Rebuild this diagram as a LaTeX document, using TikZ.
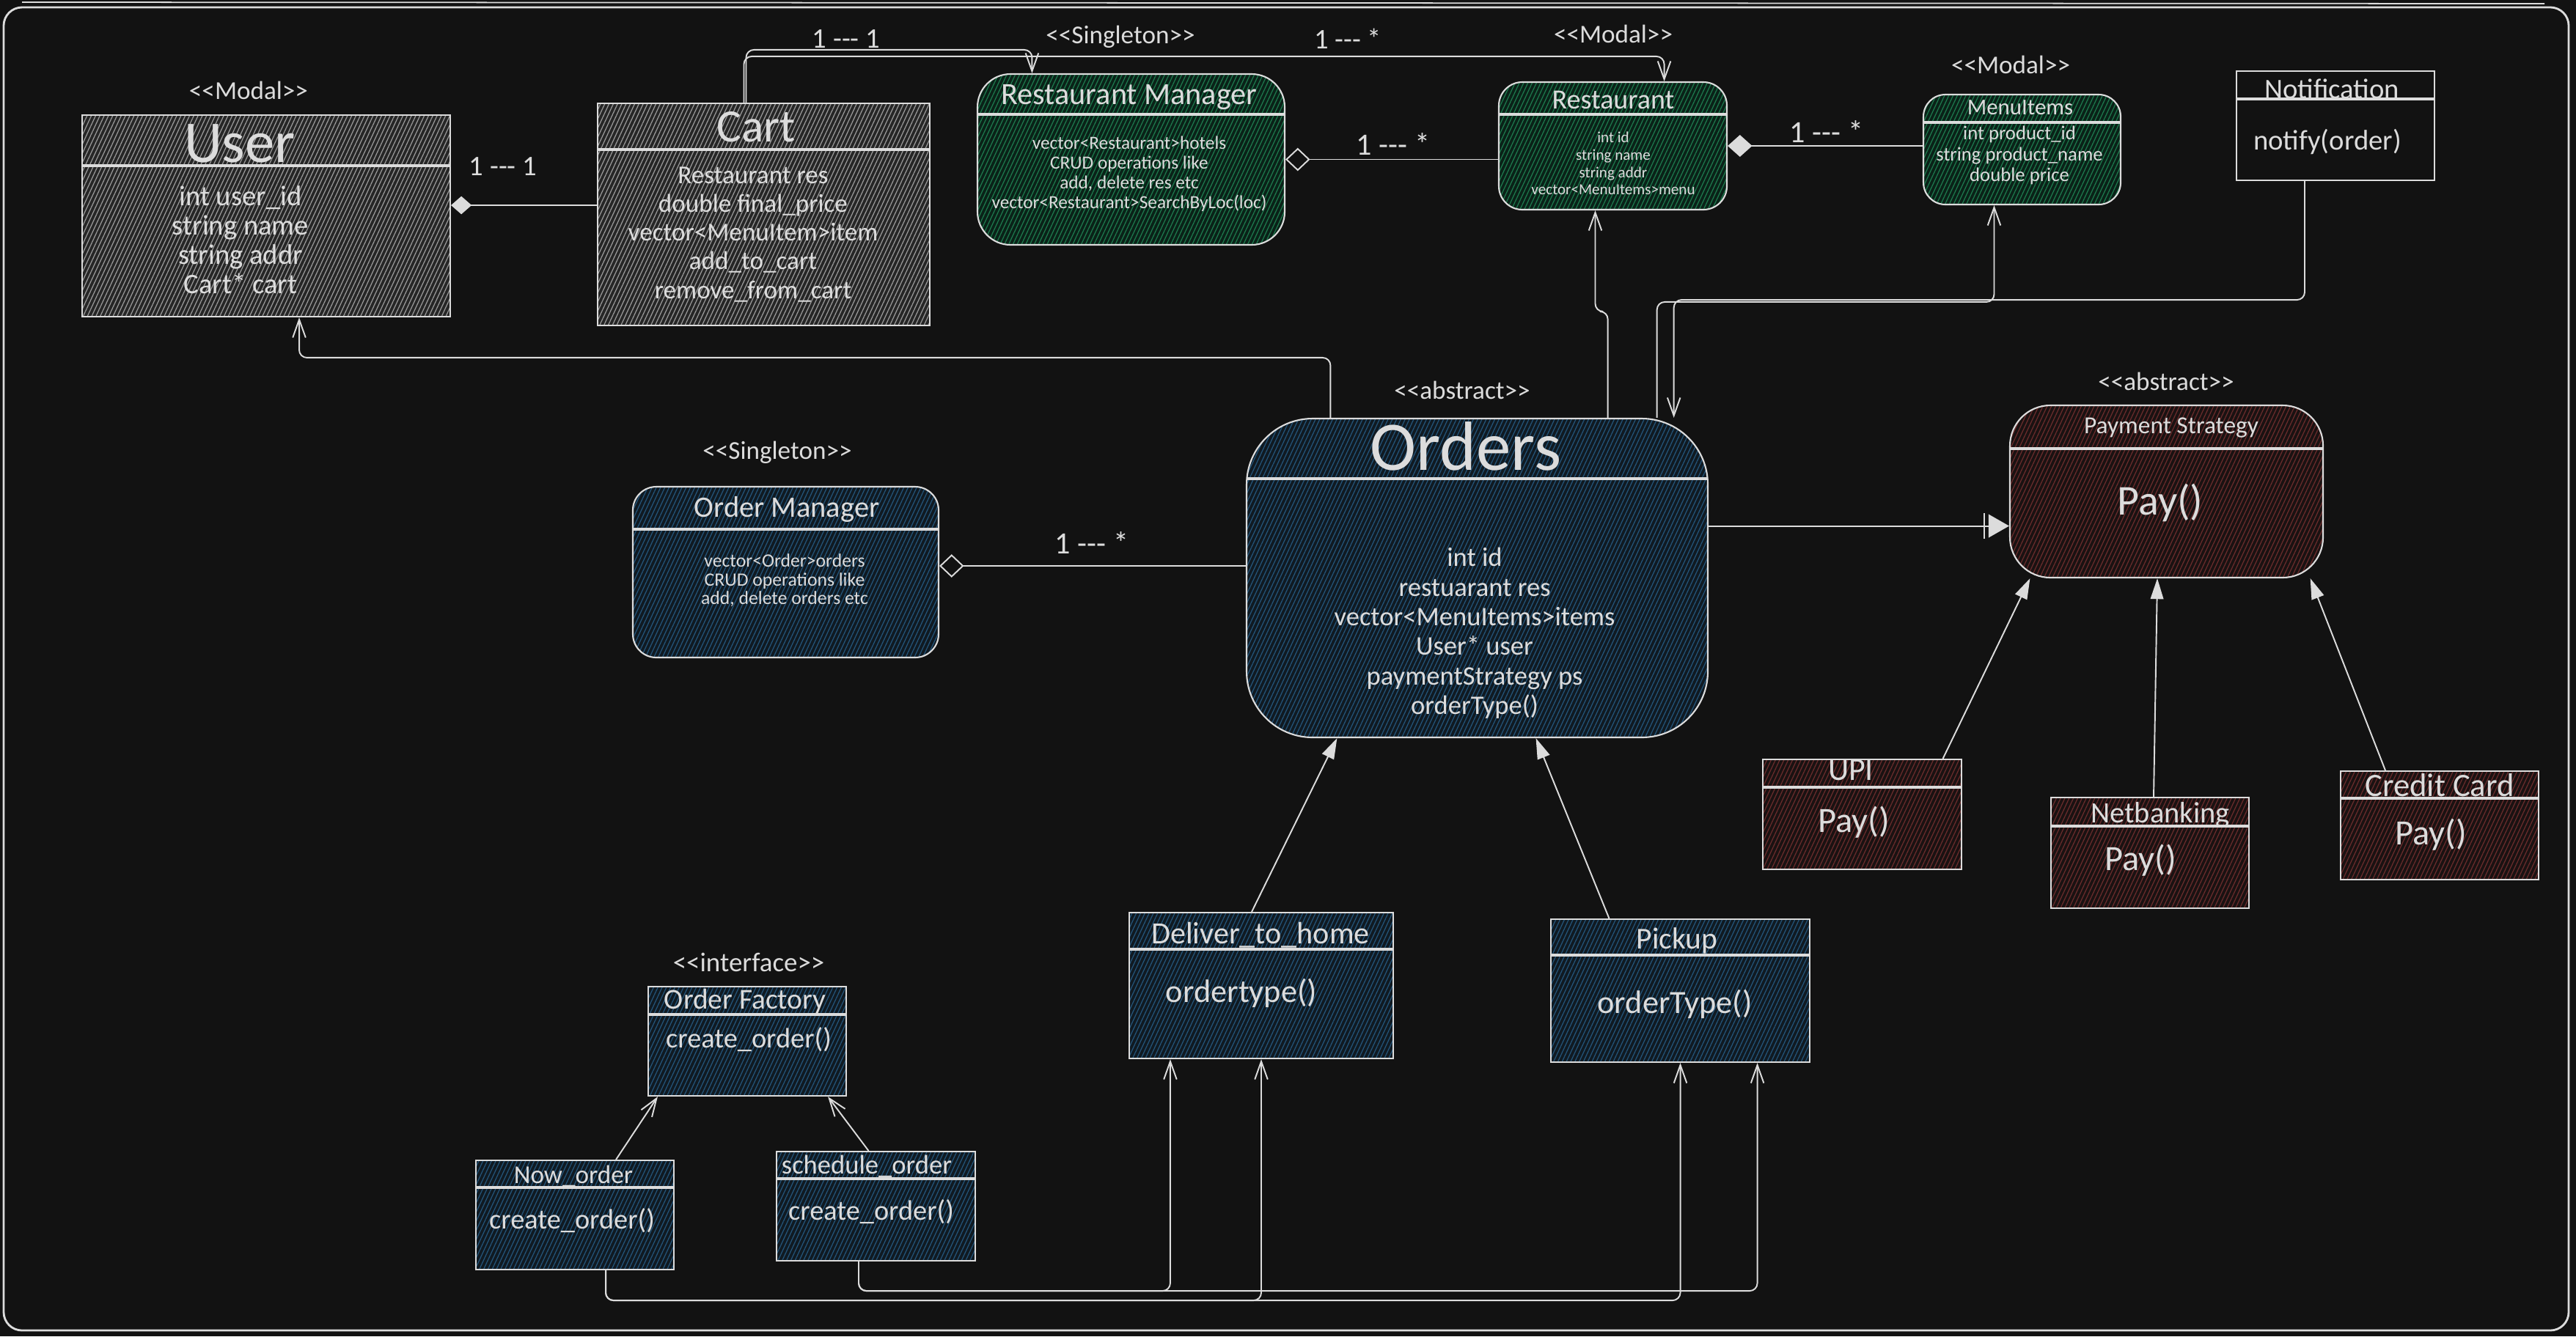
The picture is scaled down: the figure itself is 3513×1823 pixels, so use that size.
\documentclass[tikz,border=0pt]{standalone}
\usepackage{fontspec}
\setmainfont{Carlito}
\usetikzlibrary{arrows.meta,fit,patterns.meta}
\definecolor{bgc}{HTML}{121212}
\definecolor{ink}{HTML}{DCDCDC}
\definecolor{grayb}{HTML}{262626}
\definecolor{grayh}{HTML}{9A9A9A}
\definecolor{greenb}{HTML}{0A2218}
\definecolor{greenh}{HTML}{1E7A4E}
\definecolor{blueb}{HTML}{101A22}
\definecolor{blueh}{HTML}{24557A}
\definecolor{redb}{HTML}{1A1212}
\definecolor{redh}{HTML}{6A2C2C}
\newcommand{\fsz}[2]{\fontsize{#1}{#2}\selectfont}
\tikzset{
  box/.style={draw=ink,line width=0.6pt,inner sep=0pt},
  hatch/.style 2 args={preaction={fill=#1},
    preaction={pattern={Lines[angle=65,distance=1.5pt,line width=0.35pt]},pattern color=#2}},
  graycls/.style={box,hatch={grayb}{grayh}},
  greencls/.style={box,hatch={greenb}{greenh}},
  bluecls/.style={box,hatch={blueb}{blueh}},
  redcls/.style={box,hatch={redb}{redh}},
  txt/.style={text=ink,inner sep=0pt,align=center},
  sep/.style={draw=ink,line width=1pt},
  link/.style={draw=ink,line width=0.55pt,rounded corners=3pt},
  opena/.style={-{Straight Barb[length=7pt,width=5pt]}},
  inh/.style={-{Triangle[length=8pt,width=5pt]}}
}

\begin{document}
\begin{tikzpicture}[x=0.01cm,y=-0.01cm]
\fill[bgc] (0,0) rectangle (3513,1823);
\draw[ink,line width=0.8pt,rounded corners=0.25cm] (5,10) rectangle (3503,1815);
\draw[ink,line width=0.5pt] (30,3) -- (3470,5);

\node[graycls,fit={(112,157) (614,432)}] (user) {};
\node[graycls,fit={(815,141) (1268,444)}] (cart) {};
\node[greencls,rounded corners=0.45cm,fit={(1333,101) (1752,334)}] (rm) {};
\node[greencls,rounded corners=0.32cm,fit={(2044,112) (2355,286)}] (rest) {};
\node[greencls,rounded corners=0.3cm,fit={(2623,129) (2892,279)}] (menu) {};
\node[box,fit={(3050,97) (3320,246)}] (noti) {};
\node[bluecls,rounded corners=0.9cm,fit={(1700,571) (2329,1006)}] (orders) {};
\node[bluecls,rounded corners=0.32cm,fit={(863,664) (1280,897)}] (om) {};
\node[redcls,rounded corners=0.55cm,fit={(2741,553) (3168,788)}] (ps) {};
\node[redcls,fit={(2404,1036) (2675,1186)}] (upi) {};
\node[redcls,fit={(2797,1088) (3067,1239)}] (nb) {};
\node[redcls,fit={(3192,1052) (3462,1200)}] (cc) {};
\node[bluecls,fit={(1540,1245) (1900,1444)}] (dth) {};
\node[bluecls,fit={(2115,1254) (2468,1449)}] (pick) {};
\node[bluecls,fit={(884,1346) (1154,1495)}] (fac) {};
\node[bluecls,fit={(649,1583) (919,1732)}] (now) {};
\node[bluecls,fit={(1059,1571) (1330,1720)}] (sch) {};

\draw[sep] (112,226) -- (614,226);
\draw[sep] (815,204) -- (1268,204);
\draw[sep] (1333,156) -- (1752,156);
\draw[sep] (2044,156) -- (2355,156);
\draw[sep] (2623,167) -- (2892,167);
\draw[sep] (3050,135) -- (3320,135);
\draw[sep] (1700,653) -- (2329,653);
\draw[sep] (863,722) -- (1280,722);
\draw[sep] (2741,612) -- (3168,612);
\draw[sep] (2404,1074) -- (2675,1074);
\draw[sep] (2797,1127) -- (3067,1127);
\draw[sep] (3192,1089) -- (3462,1089);
\draw[sep] (1540,1295) -- (1900,1295);
\draw[sep] (2115,1303) -- (2468,1303);
\draw[sep] (884,1384) -- (1154,1384);
\draw[sep] (649,1620) -- (919,1620);
\draw[sep] (1059,1608) -- (1330,1608);

\node[txt,font=\fsz{10pt}{12pt}] (userS) at (339,123) {<{}<Modal>{}>};
\node[txt,font=\fsz{23pt}{23pt}] (userT) at (327,196) {User};
\node[txt,font=\fsz{11pt}{11.4pt}] (userB) at (328,327) {int user\_id\\string name\\string addr\\Cart* cart};
\node[txt,font=\fsz{18pt}{18pt}] (cartT) at (1031,173) {Cart};
\node[txt,font=\fsz{10pt}{11.1pt}] (cartB) at (1027,320) {Restaurant res\\double final\_price\\vector<MenuItem>item\\add\_to\_cart\\remove\_from\_cart};
\node[txt,font=\fsz{10pt}{12pt}] (rmS) at (1528,50) {<{}<Singleton>{}>};
\node[txt,font=\fsz{12pt}{12pt}] (rmT) at (1540,133) {Restaurant Manager};
\node[txt,font=\fsz{7.2pt}{7.7pt}] (rmB) at (1540,237) {vector<Restaurant>hotels\\CRUD operations like\\add, delete res etc\\vector<Restaurant>SearchByLoc(loc)};
\node[txt,font=\fsz{10pt}{12pt}] (restS) at (2200,46) {<{}<Modal>{}>};
\node[txt,font=\fsz{10.8pt}{10.8pt}] (restT) at (2200,136) {Restaurant};
\node[txt,font=\fsz{6pt}{6.75pt}] (restB) at (2200,223) {int id\\string name\\string addr\\vector<MenuItems>menu};
\node[txt,font=\fsz{10pt}{12pt}] (menuS) at (2742,88) {<{}<Modal>{}>};
\node[txt,font=\fsz{8.8pt}{8.8pt}] (menuT) at (2755,147) {MenuItems};
\node[txt,font=\fsz{7.6pt}{8.1pt}] (menuB) at (2754,212) {int product\_id\\string product\_name\\double price};
\node[txt,font=\fsz{11pt}{11pt}] (notiT) at (3180,121) {Notification};
\node[txt,font=\fsz{11pt}{11pt}] (notiB) at (3174,193) {notify(order)};
\node[txt,font=\fsz{10pt}{12pt}] (ordS) at (1994,532) {<{}<abstract>{}>};
\node[txt,font=\fsz{27pt}{27pt}] (ordT) at (1999,609) {Orders};
\node[txt,font=\fsz{10.4pt}{11.5pt}] (ordB) at (2011,864) {int id\\restuarant res\\vector<MenuItems>items\\User* user\\paymentStrategy ps\\orderType()};
\node[txt,font=\fsz{10pt}{12pt}] (omS) at (1060,617) {<{}<Singleton>{}>};
\node[txt,font=\fsz{11.5pt}{11.5pt}] (omT) at (1073,695) {Order Manager};
\node[txt,font=\fsz{7.3pt}{7.3pt}] (omB) at (1070,792) {vector<Order>orders\\CRUD operations like\\add, delete orders etc};
\node[txt,font=\fsz{10pt}{12pt}] (psS) at (2954,520) {<{}<abstract>{}>};
\node[txt,font=\fsz{9.5pt}{9.5pt}] (psT) at (2961,584) {Payment Strategy};
\node[txt,font=\fsz{16.5pt}{16.5pt}] (psB) at (2946,686) {Pay()};
\node[txt,font=\fsz{12.5pt}{12.5pt}] (upiT) at (2524,1051) {UPI};
\node[txt,font=\fsz{13.8pt}{13.8pt}] (upiB) at (2528,1122) {Pay()};
\node[txt,font=\fsz{11.5pt}{11.5pt}] (nbT) at (2946,1112) {Netbanking};
\node[txt,font=\fsz{13.8pt}{13.8pt}] (nbB) at (2919,1174) {Pay()};
\node[txt,font=\fsz{12.7pt}{12.7pt}] (ccT) at (3327,1071) {Credit Card};
\node[txt,font=\fsz{13.8pt}{13.8pt}] (ccB) at (3315,1139) {Pay()};
\node[txt,font=\fsz{12pt}{12pt}] (dthT) at (1719,1276) {Deliver\_to\_home};
\node[txt,font=\fsz{12.6pt}{12.6pt}] (dthB) at (1693,1355) {ordertype()};
\node[txt,font=\fsz{11.8pt}{11.8pt}] (pickT) at (2287,1283) {Pickup};
\node[txt,font=\fsz{12.6pt}{12.6pt}] (pickB) at (2284,1370) {orderType()};
\node[txt,font=\fsz{10.5pt}{12pt}] (facS) at (1021,1313) {<{}<interface>{}>};
\node[txt,font=\fsz{11.2pt}{11.2pt}] (facT) at (1016,1366) {Order Factory};
\node[txt,font=\fsz{10.9pt}{10.9pt}] (facB) at (1021,1418) {create\_order()};
\node[txt,font=\fsz{10pt}{10pt}] (nowT) at (782,1605) {Now\_order};
\node[txt,font=\fsz{10.9pt}{10.9pt}] (nowB) at (780,1665) {create\_order()};
\node[txt,font=\fsz{10.4pt}{10.4pt}] (schT) at (1182,1591) {schedule\_order};
\node[txt,font=\fsz{10.9pt}{10.9pt}] (schB) at (1188,1653) {create\_order()};

\node[txt,font=\fsz{11pt}{11pt}] (m1) at (686,227) {1 -{}-{}- 1};
\node[txt,font=\fsz{11pt}{11pt}] (m2) at (1154,53) {1 -{}-{}- 1};
\node[txt,font=\fsz{11pt}{11pt}] (m3) at (1838,53) {1 -{}-{}- *};
\node[txt,font=\fsz{12pt}{12pt}] (m4) at (1900,197) {1 -{}-{}- *};
\node[txt,font=\fsz{12pt}{12pt}] (m5) at (2491,180) {1 -{}-{}- *};
\node[txt,font=\fsz{12pt}{12pt}] (m6) at (1489,740) {1 -{}-{}- *};

\coordinate (uc) at ([yshift=1.45mm]user.east);
\draw[link,{Diamond[fill=ink,length=8pt,width=7pt]}-] (uc) -- (uc -| cart.west);
\coordinate (c1) at ([xshift=-2.4mm]cart.north);
\coordinate (r1) at ([xshift=-13.5mm]rm.north);
\draw[link,opena] (c1) -- ++(0,-72) -| (r1);
\coordinate (c2) at ([xshift=-2.7mm]cart.north);
\coordinate (r2) at ([xshift=7mm]rest.north);
\draw[link,opena] (c2) -- ++(0,-63) -| (r2);
\draw[link,{Diamond[fill=bgc,length=9.5pt,width=9pt]}-] (rm.east) -- (rm.east -| rest.west);
\draw[link,{Diamond[fill=ink,length=9.5pt,width=8.5pt]}-] (rest.east) -- (rest.east -| menu.west);
\coordinate (oo) at ([yshift=0.85mm]om.east);
\draw[link,{Diamond[fill=bgc,length=9.5pt,width=9pt]}-] (oo) -- (oo -| orders.west);
\coordinate (pin) at ([yshift=-4.7mm]ps.west);
\draw[link,-{Bar[width=10pt,sep=1.5pt]Triangle[length=8pt,width=9pt]}] (pin -| orders.east) -- (pin);

\coordinate (u1) at ([xshift=11mm]upi.north);
\coordinate (p1) at ([xshift=-18.6mm]ps.south);
\draw[link,inh] (u1) -- (p1);
\coordinate (n1) at ([xshift=0.5mm]nb.north);
\coordinate (p2) at ([xshift=-1.25mm]ps.south);
\draw[link,inh] (n1) -- (p2);
\coordinate (k1) at ([xshift=-7.4mm]cc.north);
\coordinate (p3) at ([xshift=19.6mm]ps.south);
\draw[link,inh] (k1) -- (p3);

\coordinate (d1) at ([xshift=-1.3mm]dth.north);
\coordinate (o1) at ([xshift=-19.1mm]orders.south);
\draw[link,inh] (d1) -- (o1);
\coordinate (k2) at ([xshift=-9.7mm]pick.north);
\coordinate (o2) at ([xshift=8mm]orders.south);
\draw[link,inh] (k2) -- (o2);

\coordinate (w1) at ([xshift=5.6mm]now.north);
\coordinate (f1) at ([xshift=-12.2mm]fac.south);
\draw[link,opena] (w1) -- (f1);
\coordinate (s1) at ([xshift=-1mm]sch.north);
\coordinate (f2) at ([xshift=11mm]fac.south);
\draw[link,opena] (s1) -- (f2);

\coordinate (s2) at ([xshift=-2.35mm]sch.south);
\coordinate (d2) at ([xshift=-12.4mm]dth.south);
\coordinate (k3) at ([xshift=10.5mm]pick.south);
\draw[link,opena] (s2) -- ++(0,40) -| (d2);
\draw[link,opena] (s2) -- ++(0,40) -| (k3);
\coordinate (w2) at ([xshift=4.2mm]now.south);
\draw[link,opena] (w2) -- ++(0,41) -| (dth.south);
\draw[link,opena] (w2) -- ++(0,41) -| (pick.south);

\coordinate (o3) at ([xshift=-20mm]orders.north);
\coordinate (u2) at ([xshift=4.5mm]user.south);
\draw[link,opena] (o3) -- ++(0,-82) -| (u2);
\coordinate (o4) at ([xshift=17.8mm]orders.north);
\coordinate (r3) at ([xshift=-2.4mm]rest.south);
\draw[link,opena] (o4) -- ++(0,-145) -| (r3);
\coordinate (o5) at ([xshift=24.5mm]orders.north);
\coordinate (m7) at ([xshift=-3.8mm]menu.south);
\draw[link,opena] (o5) -- ++(0,-158) -| (m7);
\coordinate (n2) at ([xshift=-4.2mm]noti.south);
\coordinate (o6) at ([xshift=26.8mm]orders.north);
\draw[link,opena] (n2) -- ++(0,162) -| (o6);
\end{tikzpicture}
\end{document}
